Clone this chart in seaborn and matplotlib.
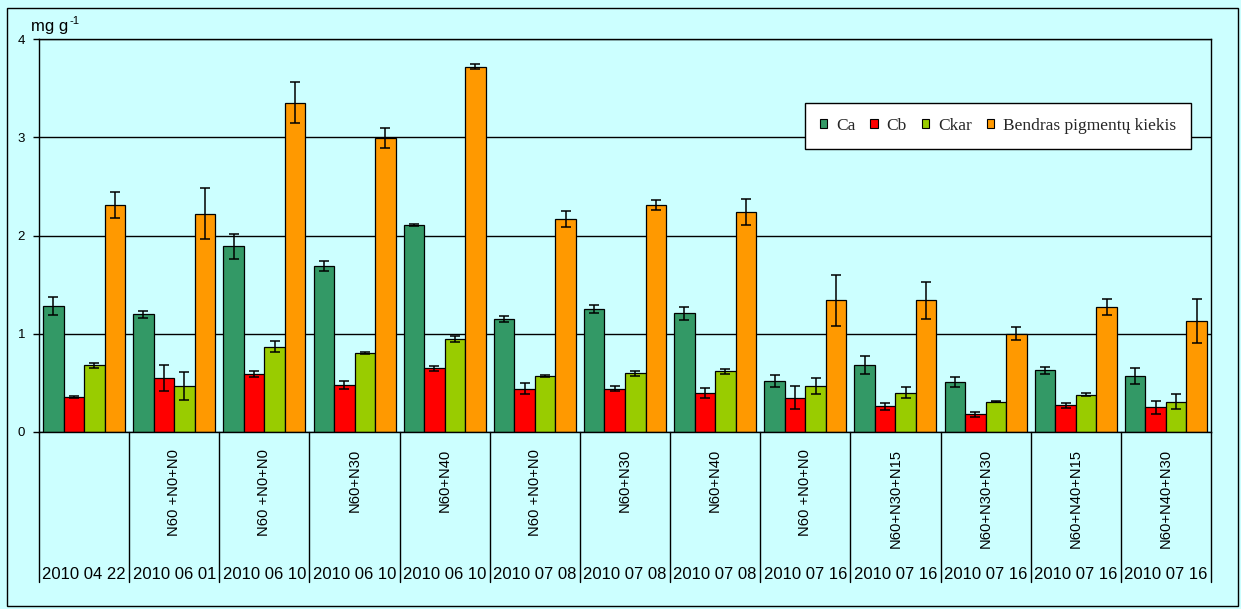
import numpy as np
import pandas as pd
import matplotlib
matplotlib.use("Agg")
import matplotlib.pyplot as plt
import matplotlib.transforms as mtransforms
from matplotlib.patches import Rectangle
import seaborn as sns

# Sampling dates and fertilisation treatments (two-level category axis)
dates = ["2010 04 22", "2010 06 01", "2010 06 10", "2010 06 10", "2010 06 10",
         "2010 07 08", "2010 07 08", "2010 07 08", "2010 07 16", "2010 07 16",
         "2010 07 16", "2010 07 16", "2010 07 16"]
treatments = ["", "N60 +N0+N0", "N60 +N0+N0", "N60+N30", "N60+N40",
              "N60 +N0+N0", "N60+N30", "N60+N40", "N60 +N0+N0",
              "N60+N30+N15", "N60+N30+N30", "N60+N40+N15", "N60+N40+N30"]

series = ["Ca", "Cb", "Ckar", "Bendras pigmentų kiekis"]

# Pigment contents, mg g-1, and their errors
ca = [1.28, 1.20, 1.89, 1.69, 2.11, 1.15, 1.25, 1.21, 0.52, 0.68, 0.51, 0.63, 0.57]
ca_err = [0.09, 0.035, 0.13, 0.05, 0.01, 0.03, 0.04, 0.065, 0.065, 0.09, 0.05, 0.035, 0.08]
cb = [0.36, 0.55, 0.59, 0.48, 0.65, 0.44, 0.44, 0.40, 0.35, 0.26, 0.18, 0.27, 0.25]
cb_err = [0.01, 0.13, 0.035, 0.04, 0.025, 0.055, 0.025, 0.05, 0.115, 0.04, 0.025, 0.025, 0.065]
ckar = [0.68, 0.47, 0.87, 0.80, 0.95, 0.57, 0.60, 0.62, 0.47, 0.40, 0.31, 0.38, 0.31]
ckar_err = [0.025, 0.145, 0.055, 0.01, 0.03, 0.01, 0.025, 0.025, 0.08, 0.055, 0.005, 0.015, 0.08]
total = [2.31, 2.22, 3.35, 2.99, 3.72, 2.17, 2.31, 2.24, 1.34, 1.34, 1.00, 1.27, 1.13]
total_err = [0.13, 0.26, 0.21, 0.10, 0.025, 0.08, 0.055, 0.13, 0.26, 0.185, 0.065, 0.08, 0.22]

values = [ca, cb, ckar, total]
errors = [ca_err, cb_err, ckar_err, total_err]
colors = ["#339966", "#FF0000", "#99CC00", "#FF9900"]
bg = "#CCFFFF"

keys = [str(i) for i in range(len(dates))]
rows = []
for name, vals in zip(series, values):
    for k, v in zip(keys, vals):
        rows.append({"key": k, "series": name, "value": v})
df = pd.DataFrame(rows)

sns.set_theme(style="white")
plt.rcParams["font.family"] = ["Liberation Sans", "DejaVu Sans"]

W, H = 1241, 609
fig = plt.figure(figsize=(W / 100, H / 100), dpi=100, facecolor=bg)
ax = fig.add_axes([39 / W, 1 - 432 / H, (1211 - 39) / W, (432 - 39) / H])
ax.set_facecolor(bg)

sns.barplot(data=df, x="key", y="value", hue="series", order=keys,
            hue_order=series, palette=colors, width=0.91, errorbar=None,
            edgecolor="black", linewidth=0.9, saturation=1, ax=ax)

# Error bars at the centres of the drawn bars
for cont, err in zip(ax.containers, errors):
    xs = [p.get_x() + p.get_width() / 2 for p in cont.patches]
    hs = [p.get_height() for p in cont.patches]
    ax.errorbar(xs, hs, yerr=err, fmt="none", ecolor="black",
                elinewidth=1.1, capsize=3.6, capthick=1.1, zorder=5)

ax.set_xlim(-0.5, len(keys) - 0.5)
ax.set_ylim(0, 4)
ax.set_yticks([0, 1, 2, 3, 4])
ax.set_yticklabels(["0", "1", "2", "3", "4"], fontsize=9.5)
ax.set_axisbelow(True)
ax.yaxis.grid(True, color="black", linewidth=1)
ax.xaxis.grid(False)
for s in ax.spines.values():
    s.set_color("black")
    s.set_linewidth(1)
ax.tick_params(axis="y", which="both", left=True, length=4, width=1,
               color="black", pad=6, labelcolor="black")
ax.set_xlabel("")
ax.set_ylabel("")

ax.set_xticks(range(len(keys)))
ax.set_xticklabels(treatments, rotation=90, fontsize=10.6, va="top", ha="center")
ax.tick_params(axis="x", bottom=False, pad=6, labelcolor="black")

# Category separators and date labels below the axis
trans = mtransforms.blended_transform_factory(ax.transData, ax.transAxes)
sep_bottom = -(582 - 432) / (432 - 39)
for i in range(len(keys) + 1):
    ax.plot([i - 0.5, i - 0.5], [0, sep_bottom], transform=trans,
            color="black", linewidth=1, clip_on=False)
date_y = -(579 - 432) / (432 - 39)
for i, d in enumerate(dates):
    ax.text(i, date_y, d, transform=trans, ha="center", va="baseline",
            fontsize=12, color="black")

# Legend
handles, labels = ax.get_legend_handles_labels()
for h in handles:
    h.set_edgecolor("black")
    h.set_linewidth(0.8)
leg = ax.legend(handles, labels, ncol=4, loc="upper right",
                bbox_to_anchor=((1191 - 39) / 1172, (432 - 103) / 393),
                borderaxespad=0, frameon=True, fancybox=False, framealpha=1,
                edgecolor="black", handlelength=0.45, handleheight=0.45,
                handletextpad=0.5, columnspacing=0.85, borderpad=0.85,
                prop={"family": "Liberation Serif", "size": 12.5})
leg.get_frame().set_linewidth(1)

# Unit label
fig.text(31 / W, 1 - 31 / H, "mg g", fontsize=12,
         va="baseline", ha="left", color="black")
fig.text(69 / W, 1 - 38 / H + 14 / H, "-1", fontsize=8,
         va="baseline", ha="left", color="black")

# Outer chart border
fig.patches.append(Rectangle((7 / W, 1 - 606 / H), (1238 - 7) / W, (606 - 8) / H,
                             transform=fig.transFigure, fill=False,
                             edgecolor="black", linewidth=1))

fig.savefig("out.png", dpi=100, facecolor=bg)
